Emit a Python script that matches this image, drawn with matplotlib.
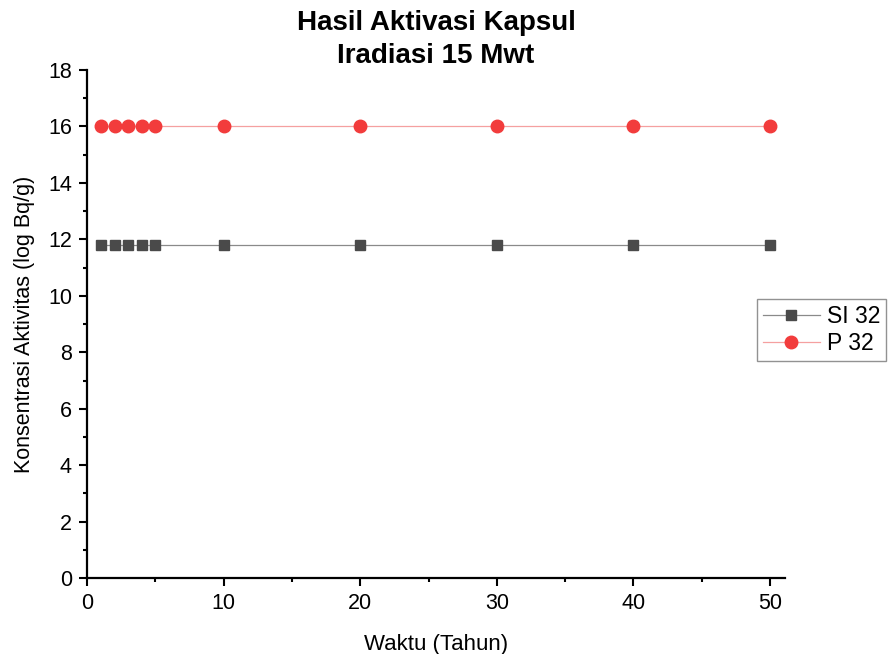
import matplotlib
matplotlib.use("Agg")
import matplotlib.pyplot as plt
from matplotlib.ticker import MultipleLocator

plt.rcParams["font.family"] = ["Liberation Sans", "DejaVu Sans"]

# data
tahun = [1, 2, 3, 4, 5, 10, 20, 30, 40, 50]
si32 = [11.8, 11.8, 11.8, 11.8, 11.8, 11.8, 11.8, 11.8, 11.8, 11.8]
p32 = [16.0, 16.0, 16.0, 16.0, 16.0, 16.0, 16.0, 16.0, 16.0, 16.0]

fig = plt.figure(figsize=(8.9, 6.54), dpi=100)
ax = fig.add_axes([0.098, 0.116, 0.784, 0.777])

ax.plot(tahun, si32, color="#8a8a8a", linewidth=0.9, marker="s",
        markersize=7.8, markerfacecolor="#4a4a4a", markeredgecolor="#4a4a4a",
        label="SI 32")
ax.plot(tahun, p32, color="#f5a0a0", linewidth=0.9, marker="o",
        markersize=9, markerfacecolor="#f23c3c", markeredgecolor="#f23c3c",
        label="P 32")

ax.set_xlim(0, 51.1)
ax.set_ylim(0, 18)
ax.xaxis.set_major_locator(MultipleLocator(10))
ax.xaxis.set_minor_locator(MultipleLocator(5))
ax.yaxis.set_major_locator(MultipleLocator(2))
ax.yaxis.set_minor_locator(MultipleLocator(1))
ax.tick_params(which="major", direction="out", length=6, width=1.5,
               labelsize=15.5, pad=5)
ax.tick_params(which="minor", direction="out", length=3, width=1.5)

for side in ("top", "right"):
    ax.spines[side].set_visible(False)
for side in ("left", "bottom"):
    ax.spines[side].set_linewidth(1.6)

ax.set_xlabel("Waktu (Tahun)", fontsize=16, labelpad=14)
ax.set_ylabel("Konsentrasi Aktivitas (log Bq/g)", fontsize=15.5, labelpad=9)
ax.set_title("Hasil Aktivasi Kapsul\nIradiasi 15 Mwt", fontsize=20,
             fontweight="bold", pad=5, linespacing=1.35)

leg = ax.legend(loc="center left", bbox_to_anchor=(0.96, 0.488), fontsize=16.5,
                frameon=True, fancybox=False, handlelength=2.5,
                borderpad=0.25, labelspacing=0.2, handletextpad=0.3,
                borderaxespad=0)
leg.get_frame().set_edgecolor("#777777")
leg.get_frame().set_linewidth(1.0)

fig.savefig("out.png", dpi=100)
